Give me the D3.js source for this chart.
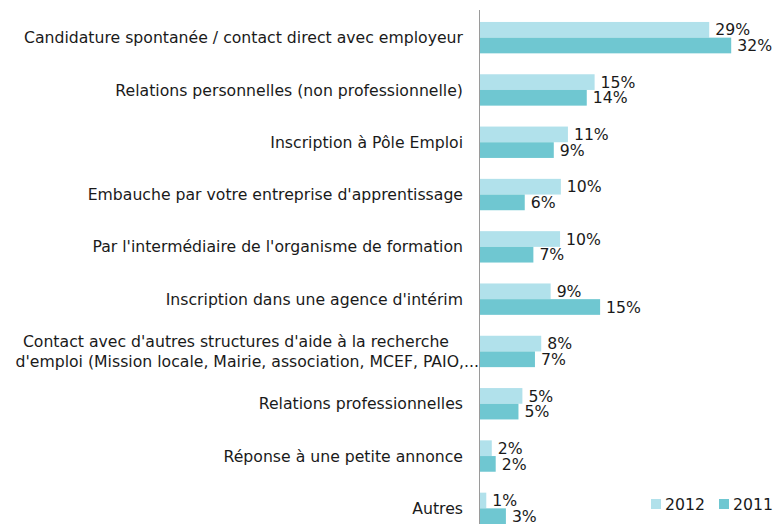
<!DOCTYPE html>
<html><head><meta charset="utf-8">
<script src="https://cdn.jsdelivr.net/npm/d3@7"></script>
<style>body{margin:0;background:#fff}svg{display:block}text{font-family:"DejaVu Sans",Verdana,sans-serif;fill:#1a1a1a}</style>
</head><body><svg id="c" width="776" height="524"></svg>
<script>
const categories = [
  ["Candidature spontanée / contact direct avec employeur"],
  ["Relations personnelles (non professionnelle)"],
  ["Inscription à Pôle Emploi"],
  ["Embauche par votre entreprise d'apprentissage"],
  ["Par l'intermédiaire de l'organisme de formation"],
  ["Inscription dans une agence d'intérim"],
  ["Contact avec d'autres structures d'aide à la recherche", "d'emploi (Mission locale, Mairie, association, MCEF, PAIO,..."],
  ["Relations professionnelles"],
  ["Réponse à une petite annonce"],
  ["Autres"]
];
const values2012 = [29.2, 14.6, 11.2, 10.3, 10.2, 9.0, 7.8, 5.4, 1.5, 0.8];
const values2011 = [32.0, 13.6, 9.4, 5.7, 6.8, 15.3, 7.0, 4.9, 2.0, 3.3];
const seriesNames = ["2012", "2011"];
const colors = ["#b1e1eb", "#6fc7d1"];

const svg = d3.select("#c");
const FS = 15.7;
const x = d3.scaleLinear().domain([0, 35]).range([480, 754.75]);
const y = d3.scaleBand().domain(d3.range(categories.length)).range([11.5, 534.5]).paddingInner(0.4).paddingOuter(0.2);
const sub = d3.scaleBand().domain([0, 1]).range([0, y.bandwidth()]);

const data = categories.map((c, i) => ({c, v: [values2012[i], values2011[i]]}));

const g = svg.selectAll("g.cat").data(data).join("g").attr("class", "cat")
  .attr("transform", (d, i) => `translate(0,${y(i)})`);

g.selectAll("rect").data(d => d.v).join("rect")
  .attr("x", x(0)).attr("y", (v, j) => sub(j))
  .attr("width", v => x(v) - x(0)).attr("height", sub.bandwidth())
  .attr("fill", (v, j) => colors[j]);

g.selectAll("text.val").data(d => d.v).join("text").attr("class", "val")
  .attr("x", v => x(v) + 6).attr("y", (v, j) => sub(j) + sub.bandwidth() / 2)
  .attr("dy", "0.36em").attr("font-size", FS).text(v => Math.round(v) + "%");

g.each(function(d) {
  const t = d3.select(this).append("text").attr("text-anchor", "end").attr("font-size", FS);
  const mid = y.bandwidth() / 2;
  const n = d.c.length;
  const ends = n > 1 ? [449, 479] : [463];
  d.c.forEach((line, k) => {
    t.append("tspan").attr("x", ends[k]).attr("y", mid + (k - (n - 1) / 2) * 20).attr("dy", "0.36em").text(line);
  });
});

svg.append("line").attr("x1", x(0) - 0.5).attr("x2", x(0) - 0.5).attr("y1", 10).attr("y2", 524)
  .attr("stroke", "#9a9a9a").attr("stroke-width", 1);

const leg = svg.append("g");
const lx = [651, 719];
seriesNames.forEach((s, i) => {
  leg.append("rect").attr("x", lx[i]).attr("y", 499).attr("width", 10).attr("height", 10).attr("fill", colors[i]);
  leg.append("text").attr("x", lx[i] + 14).attr("y", 504).attr("dy", "0.36em").attr("font-size", FS).text(s);
});
</script></body></html>
